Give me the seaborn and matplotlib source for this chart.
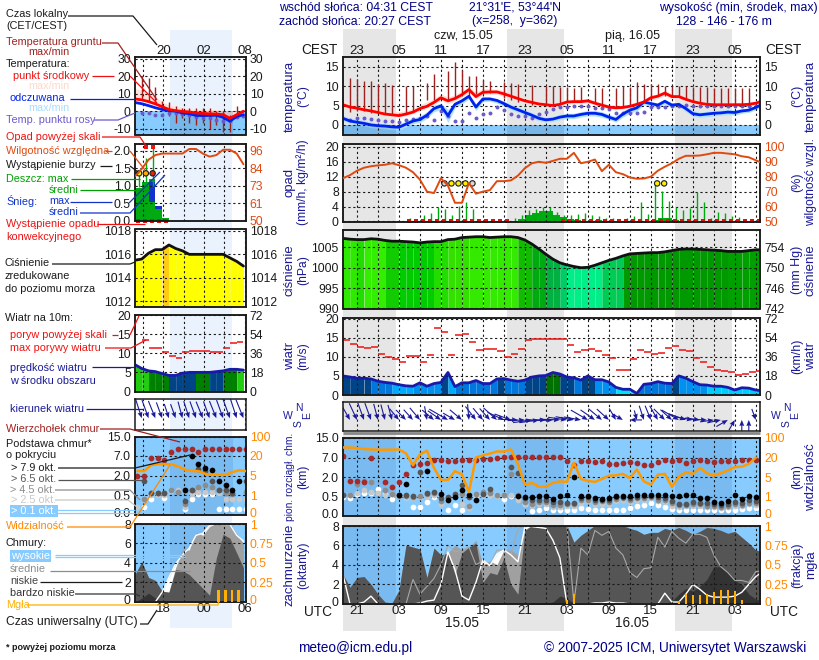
import numpy as np
import pandas as pd
import matplotlib
matplotlib.use("Agg")
import matplotlib.pyplot as plt
from matplotlib.transforms import ScaledTranslation
import seaborn as sns

n = np.nan
# ---------- main panel data (hourly, first sample 19 UTC) ----------
temp_mid = [5.2,4.6,4.3,3.9,3.6,3.2,2.8,2.6,2.4,2.8, 3.3,4.2,4.8,5.8,7.0,6.2,6.8,7.8,9.1,7.3,
            8.4,8.5,8.5,8.0,7.4,6.8,6.2,5.8,5.4,5.2, 5.0,5.3,5.9,6.0,6.0,6.2,5.6,5.1,4.6,4.4,
            4.5,4.8,5.3,5.9,7.0,7.4,8.2,7.3,7.3,6.6, 6.0,5.6,5.3,5.2,5.2,5.2,5.2,5.2,5.3,5.6,6.2]
temp_hi = [6.3,5.8,5.4,5.0,4.6,4.2,3.8,3.5,3.4,3.7, 4.2,5.2,5.9,6.8,8.0,7.2,7.8,8.8,9.8,8.4,
           9.4,9.3,9.2,8.8,8.1,7.5,6.9,6.5,6.0,5.8, 5.6,6.0,6.5,6.6,6.7,6.8,6.2,5.7,5.2,5.0,
           5.1,5.4,5.9,6.5,7.6,8.1,8.9,8.0,8.0,7.2, 6.6,6.2,5.9,5.8,5.8,5.8,5.8,5.8,5.9,6.1,6.6]
temp_lo = [4.6,4.0,3.7,3.4,3.1,2.8,2.4,2.2,2.0,2.3, 2.9,3.6,4.3,5.2,6.4,5.4,6.2,7.1,8.4,6.6,
           7.8,7.9,7.9,7.3,6.8,6.2,5.6,5.3,4.9,4.7, 4.6,4.9,5.4,5.5,5.5,5.7,5.1,4.6,4.1,4.0,
           4.1,4.3,4.8,5.4,6.4,6.8,7.6,6.7,6.7,6.0, 5.5,5.1,4.9,4.8,4.8,4.8,4.8,4.8,4.9,5.2,5.8]
feel_mid = [1.7,1.0,0.7,0.4,0.0,-0.2,-0.3,-0.5,-0.6,0.2, 1.0,1.4,2.5,4.2,4.9,2.4,5.3,6.2,7.4,4.6,
            6.7,6.7,6.3,5.5,4.6,3.9,3.2,2.5,1.7,1.3, 1.5,2.0,2.3,2.3,2.7,3.0,3.0,2.7,2.0,1.4,
            2.8,3.8,4.4,5.9,5.5,5.1,6.1,5.1,5.3,4.2, 2.9,2.6,2.8,3.0,3.1,3.3,3.2,3.6,3.8,4.5,5.4]
feel_hi = [2.4,1.8,1.5,1.1,0.7,0.5,0.3,0.1,0.1,1.1, 1.8,2.3,3.4,5.1,5.6,4.0,6.0,6.8,7.8,5.5,
           7.1,7.1,6.8,6.1,5.2,4.6,3.9,3.2,2.4,2.0, 2.2,2.7,3.0,3.0,3.4,3.7,3.7,3.4,2.7,2.2,
           3.6,4.5,5.1,6.2,6.0,5.7,6.5,5.7,5.8,4.9, 3.7,3.3,3.5,3.7,3.8,4.0,3.9,4.2,4.4,4.9,5.7]
feel_lo = [1.0,0.3,0.0,-0.3,-0.7,-0.9,-1.0,-1.2,-1.3,-0.5, 0.3,0.6,1.7,3.4,3.9,0.6,4.4,5.4,6.7,3.7,
           6.0,6.1,5.6,4.8,3.9,3.2,2.5,1.8,1.0,0.7, 0.9,1.3,1.6,1.6,2.0,2.3,2.3,2.0,1.4,0.7,
           2.0,3.0,3.6,5.2,4.7,4.5,5.4,4.4,4.7,3.4, 2.2,1.9,2.1,2.3,2.4,2.6,2.5,3.0,3.2,3.9,4.9]
dew = [n,1.3,1.7,1.7,1.5,1.3,1.0,0.9,0.8,1.2, 1.4,1.9,2.4,1.2,3.5,2.4,1.0,1.0,3.0,1.9,
       2.9,3.1,4.6,3.8,2.7,2.3,2.2,1.9,2.8,3.2, 4.2,4.5,4.6,5.0,4.9,5.0,4.3,4.3,4.1,3.0,
       3.0,3.0,3.0,3.3,4.6,4.6,4.6,5.0,4.9,5.2, 4.9,4.9,4.9,4.9,4.9,4.9,4.8,5.0,4.9,4.9,4.9]
soil_hi = [n,12.0,11.8,11.4,11.2,10.6,10.8,10.4,n,10.0, 10.0,n,10.7,13.0,n,13.8,16.2,14.2,12.5,12.7,
           11.5,11.2,n,11,10.7,10.6,n,10.4,n,10, 10,9.8,9.8,9.6,9.8,n,9.6,9.5,n,9.5,
           10.1,9.8,11,10.5,10.5,10.5,10,10,10,10, 9.8,9.8,9.8,9.6,9.6,9.5,9.5,9.5,9.6,n,n]
soil_lo = [n,3.2,3.5,3.5,3,3,2.8,2.6,n,3, 3.4,n,6.5,6.5,n,6.5,7,8,7,8,
           8.2,8.2,n,7,6.5,6,n,5.2,n,5.3, 5.2,5.5,6,6,6,n,5.8,5,n,4.4,
           4.5,5,5.4,6,7,7.4,7.5,7.3,7.3,6.5, 6,5.6,5.3,5.2,5.2,5.2,5.2,5.2,5.3,n,n]
humidity = [79,81,84,86,87,87.6,88,89,87.7,86, 83,78,70,69,79,74,62.5,62.5,75.7,68.6,
            70,71,77,77,77.5,80.7,85.7,89,90,89.3, 90.6,92,92,96,89,90,91.5,83.7,88,83,
            81.7,79.5,78.6,78.8,80,84,86.7,89,92,94, 94,94.2,95,96,96,95.5,95,93.7,93,91,89]
rain_max = [0,0,0,0,0,0,0,0,0,0.8, 0,1.6,2.2,4,3.2,1.8,4.2,5.3,3.4,0,
            0,0,0,0,0.8,1.8,3,3.4,4,4, 2.5,1.8,1.8,2,2.2,1.8,1.5,1,0.8,0.5,
            0.8,1.5,5.2,2,10,8.2,5.5,3.8,3,3.6, 8,5.2,1,2.4,2.2,1.5,1.2,0,0,0]
rain_mean = [0,0,0,0,0,0,0,0,0,0, 0,0,0,0,0,0,0.1,0.1,0,0,
             0,0,0,0,0.2,0.7,1.8,2.3,2.8,2.8, 1.8,1.1,0.6,0.4,0.2,0.2,0.3,0.1,0,0,
             0,0,0.1,0.2,0.3,0.9,0.8,0.3,0.1,0.1, 0.1,0.1,0,0,0,0,0,0,0,0]
conv_flag = [n,n,n,n,n,n,n,n,n,0, 0,0,0,0,0,0,0,0,0,0,
             0,0,0,0,n,n,n,n,n,n, n,0,0,0,0,0,0,0,0,0,
             0,0,0,0,0,0,0,0,0,0, 0,0,0,0,0,0,0,0,0,0]
storm_t = [14.5,15.5,16.5,17.5,18.5,44.9,45.9]
storm_y = [10.2,10.2,10.2,10.2,10.2,10.2,10.2]
storm_c = ['#d8d8d8','#ffee00','#ffee00','#ffee00','#d8d8d8','#ffee00','#ffee00']
pressure = [1007.2,1007,1006.9,1006.9,1007.1,1007,1006.7,1006.5,1006.5,1006.4,
            1006.3,1006.1,1006.3,1006.4,1006.4,1006.9,1007,1007.4,1007.5,1007.6,
            1007.6,1007.4,1007.5,1007.6,1007.6,1007.4,1006.8,1005.8,1004.6,1003.3,
            1002.1,1001.2,1000.7,1000.3,1000,1000.1,1000.6,1001.2,1001.8,1002.3,
            1002.9,1003.4,1003.5,1003.6,1003.7,1003.7,1003.9,1004.2,1004.5,1004.6,
            1004.6,1004.5,1004.4,1004.3,1004.2,1004,1004,1004,1004.2,1004.4,1004.4]
press_colors = (['#2eea00']*2+['#22dd00']*1+['#33ee00']*3+['#11cc00']*2+['#00cc00']*2+['#00cc00']*3
                +['#22dd00']*2+['#33e000']*3+['#33ea00']*7+['#11bb00']*2+['#00aa11']*2+['#00b040']*2
                +['#00cc66']*1+['#00ee88']*5+['#00cc55']*3+['#009900']*15+['#00a000']*5)
gust = [14.4,13.3,12.5,12.3,12.5,10.7,9.9,9.4,8.6,10.2, 10.2,8.6,10.4,17.5,16.5,10.4,15.7,16,13.9,11.8,
        12,12,11.5,9.9,10.7,12,14.4,14.6,14.6,14.6, 14.6,14.6,13,11.2,11.8,12,11.5,10.4,9.6,6.5,
        6.5,9.4,11.8,11.2,10.7,11,12.3,12.8,11.8,11.5, 9.6,8.6,7.3,6.5,6.2,6,5.2,5.5,6,6.2]
wind = [5,4.7,4.4,4.4,4.2,3.6,3.3,3.1,2.7,2.4, 2.3,3.2,2.3,3,3.3,5.9,2.2,3.2,3.2,3.8,
        3,3,4.2,4.3,3.9,3.6,3.9,4.7,5,5.1, 5.9,5.5,4.7,4.5,3.9,5,4,4,3.4,2,
        1.5,1.5,0.4,2.8,3,3.5,3.1,3,5,4.4, 3.5,2.7,2.6,2.3,2.3,2,1.3,1.9,1.8,1.3,1.1]
wind_colors = (['#004488']*4+['#0077dd']*3+['#00aaff']*3+['#0090f0']*4+['#004488']*1+['#00aaff']*1
               +['#0077dd']*5+['#0077dd']*1+['#004488']*1+['#0077dd']*3+['#004488']*3+['#007000']*2
               +['#004488']*2+['#0077dd']*1+['#004488']*2+['#0090f0']*3+['#00e0ff']*3+['#0077dd']*5
               +['#004488']*1+['#0090f0']*4+['#00ccff']*7)
wind_from = [335,330,335,340,340,345,345,345,320,315, 318,320,350,310,305,300,300,310,355,322,
             320,318,312,295,290,272,268,262,262,270, 268,272,278,280,280,300,305,310,312,330,
             300,90,345,342,338,330,315,312,300,290, 280,278,272,262,258,240,210,180,180,340]
top_km = [7.5,1.7,1.7,1.6,6.8,n,1.6,1.2,1.6,2.8, 5,5.3,5.6,6.4,6.4,6.2,6.2,6.4,6.3,6.4,
          6.7,6.6,7,7.3,7.3,7.3,7.2,7.4,7.2,7.2, 7.1,7.3,6,5,6,6,5.8,6.1,5.4,5.4,
          5.5,5.8,5.6,5.2,5,5.8,6.4,6,6.3,5.7, 6,6.3,6,5.8,6,6,6,6.3,6.3,6.3]
base79 = [n,n,n,n,n,n,n,n,0.6,1.5, n,n,3.6,n,.7,.4,.5,1,.65,.4, n,n,n,n,n,.55,.5,.5,.55,.57,
          .44,.57,.58,2,.52,.57,.47,.44,.47,.52, .57,.57,.59,.6,.62,.62,.65,.52,.52,.65, .62,.45,.46,.35,.33,.38,.6,.44,.52,.5]
base65 = [.65,n,n,n,n,n,n,n,.65,.58, .55,3.3,.75,.85,.45,.5,.7,1.4,.5,n, .7,1.1,n,n,4.5,3,.45,.4,.42,.4,
          .36,.35,.33,.33,.45,.5,.4,.42,.4,.5, .5,.46,.5,.52,.55,.5,.45,.38,.32,.32, .35,.34,.33,.3,.28,.3,.35,.33,.4,.38]
base45 = [.6,.6,1.5,1.7,1.6,n,1,.7,.55,.52, .48,.55,.7,.75,.38,.45,.65,.7,.25,.7, .85,.75,.6,.65,2.7,.6,.35,.3,.35,.35,
          .28,.28,.3,.3,.4,.42,.36,.38,.36,.44, .45,.4,.45,.45,.5,.42,.42,.33,.28,.28, .3,.3,.26,.25,.22,.26,.3,.28,.33,.33]
base25 = [.65,.6,.75,1,.85,.75,.65,.7,.53,.5, .46,.5,.55,.6,.3,.4,.55,.3,.2,.58, .6,.6,.55,.6,.58,.42,.3,.25,.3,.3,
          .24,.24,.25,.25,.33,.38,.3,.3,.32,.38, .4,.35,.4,.42,.45,.38,.35,.25,.24,.25, .26,.26,.22,.22,.2,.22,.25,.25,.3,.28]
base01 = [.5,.45,.68,.8,.8,1.1,.7,.44,.55,.5, .24,.22,.37,.5,.5,.15,.29,.15,.55,.6, .6,.6,.6,.44,.55,.5,.3,.14,.16,.2,
          .16,.16,.16,.16,.2,.17,.16,.15,.15,.16, .16,.2,.26,.29,.33,.29,.24,.17,.16,.16, .16,.16,.16,.16,.16,.16,.16,.18,.2,.2]
vis = [61,61,59,55,53,52,52,52,53,37, 14,33,48,12,4.4,4.4,9.5,7,1.9,20,
       29,36,45,44,53,15,3.4,3.8,3,3, 3.8,4.1,4,16,4.6,4.2,4,4.6,6,6.3,
       7.4,4.8,10.8,4.1,3.4,6.8,7.4,3,5,8.7, 7.4,12,8,6,8,10,12.6,13,15,20,24]
cl_low = [3,1.7,2.7,2.8,2,1,0.2,0.1,1.4,6, 5.8,5.6,2.7,5.7,5,5.2,3,5.2,5.8,6.2,
          2.2,3.2,3,4.7,2,1,7.5,8,8,8, 8,8,8,6.3,7,7.5,8,8,8,8,
          8,7.7,7.5,7.1,7.3,7.3,7.7,7.5,7.8,7.5, 7.1,7.4,7.8,7.7,7.5,7.2,7.4,6.8,6.2,5.5,5.3]
cl_med = [3,1.7,2.7,2.8,2,1,0.2,0.1,1.4,6, 5.8,5.6,2.7,5.7,5,5.2,6,5.5,5.8,6.5,
          4,4.4,4,5.5,5.5,5,7.6,8,8,8, 8,8,8,6.3,7,7.5,8,8,8,8,
          8,7.7,7.5,7.1,7.3,7.3,7.7,7.5,7.8,7.5, 7.1,7.4,7.8,7.7,7.5,7.2,7.4,6.8,6.2,5.5,5.3]
cl_high = [3,0,0,0.2,0.8,0,0,0,0,0, 0,0.1,0.3,0.4,2,5.3,3.5,0.8,0.4,2.2,
           4.5,3.9,5.1,5.5,5,4.3,7.9,7.9,7.8,7.7, 6.5,4.7,0,0,0,0,0.1,0.1,0.2,0.1,
           0.1,0,0,0,0,0,1.1,0.2,0.2,1, 2,1.5,0.9,0.7,0.7,0.7,0.8,1.2,2,2.8,3.3]
cl_med_line = [0,0,0,0,0,0,0,0,0,0, 2.5,1,1.8,2.6,4,6,5.3,5.5,5.8,4,
               4.4,4,5.5,5.5,5,7.6,8,7.9,7.8,7.9, 8,8,8,0.1,5.7,5,7.5,7,7.4,5.7,
               5,3.2,2.7,3.6,3.7,6.8,5.8,7.4,6.7,6.2, 7.1,7.1,6.8,5,3.8,3.2,2.4,2.4,2.2,3.3,3.4]
cl_vlow = [0,0,0,0,0,0,0,0,0,0, 0,0,0,0,0,0,0,0,0,0,
           0,0,0,0,0,0,0,0.05,0.1,0.1, 0.2,0.8,0.6,0.1,0,0,0.1,0.15,0.1,0,
           0,0,0,0,0,0,0,0.3,1,1.6, 1.3,1.8,2.5,3.8,3.8,3.2,2.4,2,1,0.5,0.3]
mist_t = [32,33,48,49,50,51,52,53,54,55,56,57]
mist = [0.05,0.13,0.04,0.13,0.11,0.11,0.13,0.15,0.175,0.175,0.16,0.05]

# ---------- left "legend" sample panels ----------
L_mid = [7,6.5,5.5,4.2,2.6,1,0.3,-0.1,-0.4,-1,-1.2,-1.5,-1.6,-2,-4,-2,0]
L_feel = [5,4.3,3.2,2,1,0.3,0,-1,-1.4,-2.4,-2.5,-2.4,-2.3,-3.5,-5.7,-3,-2]
L_hi = [13,12,10.5,8.5,5.5,3.5,3,2,1.5,1,1,1,1,0.5,0,0,1]
L_dew = [n,-1.2,-1.2,-2,-2.2,-0.8,-0.8,-1.3,-2.2,-3.5,-3.7,-3.7,-4.8,-5.5,-5.8,-3.5,-2.5]
L_soil_hi = [n,20,19,14,6,5,3,2,2,2,2,2,0,0,-2,3,n]
L_soil_lo = [n,7,6,5,0,-3,-7,-4,-7,-8,-7,-10,-8,-12,-12,-4,n]
L_rain = [0.94,1.1,1.18,0.34,0.07,0,0,0,0,0,0,0,0,0,0,0]
L_snow_b = [0,0,0.53,0.34,0,0,0,0,0,0,0,0,0,0,0,0]
L_snow_t = [0,0,1.09,0.43,0,0,0,0,0,0,0,0,0,0,0,0]
L_hum = [79,84,90,93,94,94,94,94,97,97,94,92,93,96.5,96.5,94,87]
L_press = [1015.5,1015.6,1016.1,1016.4,1016.4,1016.8,1016.5,1016.3,1016,1016,1016,1016,1016,1016,1015.7,1015.4,1015]
L_press_c = ['#ffff00']*4+['#ffcc11']+['#ffff00']*11
L_wind = [7,6,5.4,5.2,4.7,4.2,4.2,4.8,5,5,5,5,5.2,5.4,5.8,5.8,5.6]
L_wind_c = ['#22cc11','#22cc11','#008000','#008000','#008000','#004488','#004488','#004488','#004488',
            '#008000','#008000','#004488','#004488','#008000','#008000','#22cc11']
L_gust = [n,13.5,11.5,11.3,10.4,9.4,8.7,10.4,10.7,10.7,10.7,10.4,10.4,11.5,12.6,12.9]
L_from = [340,342,340,338,340,342,340,345,342,340,338,340,338,340,340,342,338]
L_top = [2,2,6.5,6.5,6,8.5,10,10,10,8.5,10,10,10,10,10,10,10]
L_b79 = [n,n,n,n,n,n,n,.85,7,5,4,3.3,1.6,1.3,.9,1.6,n]
L_b65 = [n,1.6,.65,.65,.65,n,n,.35,.85,3.6,3.1,1.6,.85,.85,.65,n,1.6]
L_b45 = [n,.4,.65,.65,.65,.85,.75,.28,.85,1.1,1.3,1.1,.85,.65,.6,n,.75]
L_b25 = [.2,.4,.5,.5,.5,.8,.85,.2,.6,.7,.7,.7,.65,.4,.4,.4,.4]
L_b01 = [n,.2,.4,n,.42,n,n,.13,.4,.6,.6,.6,.13,.13,.13,.13,.13]
L_vis = [8.4,8.4,12.9,13.7,13.7,13.7,12,9.5,8.4,8.4,6.3,5.5,5.5,5.5,7.6,9,8.4]
L_low = [2.8,4.1,2.5,2.2,1.1,1,3.3,3.2,2.8,2.1,1.4,0.7,4.5,6.9,6.5,5,3.5]
L_med = [2.8,4.1,2.5,2.2,1.1,1,3.5,5.3,5.3,7.1,6.8,7.7,8,8,8,7,6]
L_high = [0,0,0,0,1,2.5,3.9,4.8,5.5,6.8,7,7.8,8,7.9,7.9,6.8,6.2]
L_vlow = [0,0.4,0.9,0.4,0,0,0,0,0,0,0,0,0,0,0,0,0]
L_mist_t = [12.3,13.3,14.3,15.3]
L_mist = [0.15,0.15,0.15,0.15]

# tick labels
CEST_L = ['23','05','11','17','23','05','11','17','23','05']
UTC_L = ['21','03','09','15','21','03','09','15','21','03']

def norm(v, k):
    v = list(v)[:k]
    return v + [v[-1]]*(k-len(v))
for name in ['temp_mid','temp_hi','temp_lo','feel_mid','feel_hi','feel_lo','dew','soil_hi','soil_lo','humidity',
             'pressure','wind','cl_low','cl_med','cl_high','cl_med_line','cl_vlow']:
    globals()[name] = norm(globals()[name], 61)
for name in ['rain_max','rain_mean','conv_flag','press_colors','gust','wind_colors','wind_from','top_km',
             'base79','base65','base45','base25','base01','vis']:
    globals()[name] = norm(globals()[name], 60)

NAVY = '#1a1a99'; ORANGE = '#ff8800'; HUM = '#e04a10'; BROWN = '#a02020'
SKY = '#88ccff'
TK = 8.7

sns.set_theme(style='white')
plt.rcParams['font.family'] = ['Liberation Sans', 'DejaVu Sans']
plt.rcParams['font.size'] = 9
plt.rcParams['axes.unicode_minus'] = False

fig = plt.figure(figsize=(8.2, 6.6), dpi=100, facecolor='white')

def nudge(lab, dy):
    lab.set_transform(lab.get_transform() + ScaledTranslation(0, dy/100, fig.dpi_scale_trans))

def px_ax(x0, y0, x1, y1, z=5):
    a = fig.add_axes([x0/820, 1-y1/660, (x1-x0)/820, (y1-y0)/660], zorder=z)
    a.patch.set_visible(False)
    for s in a.spines.values():
        s.set_color('k'); s.set_linewidth(1.1); s.set_zorder(20)
    return a

bg = fig.add_axes([0, 0, 1, 1], zorder=0); bg.set_xlim(0, 820); bg.set_ylim(660, 0); bg.axis('off')
ov = fig.add_axes([0, 0, 1, 1], zorder=100); ov.set_xlim(0, 820); ov.set_ylim(660, 0); ov.axis('off')
ov.patch.set_visible(False)

for a0, a1 in [(343, 396), (507, 564), (675, 732)]:
    bg.fill_between([a0, a1], 29, 631, color='#e6e6e6', lw=0)
bg.fill_between([170, 232], 30, 628, color='#eaf2fe', lw=0)

T = np.arange(61); TX = (0, 59.6)
H = np.arange(17); HX = (0, 16.3)
gx = np.arange(2, 60, 3)
hx = 1.2 + 3*np.arange(6)
NIGHT = [(0, 7.6), (23.45, 31.55), (47.45, 55.55)]
LNIGHT = [(5.2, 14.4)]

def base(a, xl, xt, yt, yl, ylab=None, color='k'):
    a.set_xlim(*xl); a.set_ylim(*yl)
    a.set_xticks(xt); a.set_xticklabels([])
    a.set_yticks(yt)
    if ylab is not None:
        a.set_yticklabels(ylab)
    a.tick_params(axis='both', length=0, pad=3, labelsize=TK, labelcolor=color)
    a.grid(True, color='k', ls=(0, (2, 2.4)), lw=0.8)
    a.set_axisbelow(False)

def right(a, yl, yt, ylab, color='k', scale=None):
    r = a.twinx(); r.patch.set_visible(False)
    r.set_zorder(a.get_zorder()+1)
    for s in r.spines.values():
        s.set_color('k'); s.set_linewidth(1.1)
    if scale is not None:
        r.set_yscale('function', functions=scale)
    r.set_ylim(*yl); r.set_yticks(yt); r.set_yticklabels(ylab)
    r.minorticks_off()
    r.tick_params(axis='y', length=0, pad=3, labelsize=TK, labelcolor=color)
    r.grid(False)
    return r

def line(a, x, y, c, w, z=6):
    sns.lineplot(x=np.asarray(x, float), y=np.asarray(y, float), ax=a, color=c, lw=w, legend=False, errorbar=None, zorder=z)
    a.set_xlabel(''); a.set_ylabel('')

def dots(a, x, y, c, s, z=4):
    sns.scatterplot(x=np.asarray(x, float), y=np.asarray(y, float), ax=a, color=c, s=s, legend=False, zorder=z, linewidth=0)
    a.set_xlabel(''); a.set_ylabel('')

def seg_fill(a, x, y, cols, y0):
    for i in range(len(cols)):
        a.fill_between(x[i:i+2], y0, y[i:i+2], color=cols[i], lw=0, zorder=1)

def fwd_km(v):
    return np.interp(v, [0, .5, 2, 7, 15], [0, 1, 2, 3, 4])
def inv_km(v):
    return np.interp(v, [0, 1, 2, 3, 4], [0, .5, 2, 7, 15])
def fwd_vis(v):
    return np.interp(v, [0, 1, 5, 20, 100], [0, 1, 2, 3, 4])
def inv_vis(v):
    return np.interp(v, [0, 1, 2, 3, 4], [0, 1, 5, 20, 100])

# --- temperature
def temp_panel(a, x, mid, feel, hi, lo, fhi, flo, dw, shi, slo, xl, night):
    y0 = a.get_ylim()[0]
    a.fill_between(xl, y0, 0, color=SKY, lw=0, zorder=1)
    a.fill_between(x, lo, hi, color='#ffe0d8', lw=0, zorder=1.1)
    a.fill_between(x, flo, fhi, color='#aee2ff', lw=0, zorder=1.2)
    for s, e in night:
        a.fill_between([s, e], y0, 0, color='#4477aa', alpha=.25, lw=0, zorder=1.3)
    a.vlines(x, slo, shi, color=BROWN, lw=1, zorder=2.6)
    dots(a, x, dw, '#6a5acd', 8, z=3)
    line(a, x, feel, '#0022ee', 2, z=5)
    line(a, x, mid, '#ff0000', 2, z=6)

a = px_ax(343, 57, 760, 135)
base(a, TX, gx, [0, 5, 10, 15], (-2.6, 17.5))
temp_panel(a, T, temp_mid, feel_mid, temp_hi, temp_lo, feel_hi, feel_lo, dew, soil_hi, soil_lo, TX, NIGHT)
a.xaxis.set_ticks_position('top')
a.set_xticklabels([CEST_L[i//2] if i % 2 == 0 else '' for i in range(len(gx))])
a.tick_params(axis='x', top=False, labeltop=True, labelbottom=False, pad=0, labelsize=9.5)
right(a, (-2.6, 17.5), [0, 5, 10, 15], ['0', '5', '10', '15'])

b = px_ax(135, 57, 245.5, 134.5)
base(b, HX, hx, [-10, 0, 10, 20, 30], (-13.3, 31))
temp_panel(b, H, L_mid, L_feel, L_hi, L_mid, L_feel, L_feel, L_dew, L_soil_hi, L_soil_lo, HX, LNIGHT)
b.xaxis.set_ticks_position('top')
b.set_xticklabels(['', '20', '', '02', '', '08'])
b.tick_params(axis='x', top=False, labeltop=True, labelbottom=False, pad=0, labelsize=9.5)
right(b, (-13.3, 31), [-10, 0, 10, 20, 30], ['-10', '0', '10', '20', '30'])

# --- precipitation / humidity
a = px_ax(343, 143.5, 760, 221.5)
base(a, TX, gx, [0, 4, 8, 12, 16, 20], (-0.02, 20.9))
a.bar(T[:60], rain_mean, width=1, align='edge', color='#00aa11', lw=0, zorder=1.5)
a.vlines(T[:60]+0.55, 0, rain_max, color='#00aa11', lw=1, zorder=2.6)
sns.scatterplot(x=T[:60]+0.5, y=np.asarray(conv_flag, float), ax=a, color='#dd1111', marker='s', s=6, legend=False, zorder=7, linewidth=0, clip_on=False)
a.scatter(storm_t, storm_y, c=storm_c, s=15, edgecolors='k', linewidths=.8, zorder=8)
a.set_xlabel(''); a.set_ylabel('')
r = right(a, (49.95, 102.25), [50, 60, 70, 80, 90, 100], ['50', '60', '70', '80', '90', '100'], color=HUM)
line(r, T, humidity, HUM, 1.4)

b = px_ax(135, 143.5, 245.5, 221)
base(b, HX, hx, [0, .5, 1, 1.5, 2], (-0.01, 2.2), ['0.0', '0.5', '1.0', '1.5', '2.0'])
b.bar(H[:16], L_rain, width=1, align='edge', color='#00aa11', lw=0, zorder=1.5)
b.bar(H[:16], np.array(L_snow_t)-np.array(L_snow_b), bottom=L_snow_b, width=1, align='edge', color='#1133cc', lw=0, zorder=1.6)
b.vlines([0.6, 1.6, 2.6], 0.95, [1.35, 1.8, 2.1], color='#00aa11', lw=1, zorder=2.6)
sns.scatterplot(x=H[:5]+0.5, y=np.zeros(5), ax=b, color='#dd1111', marker='s', s=5, legend=False, zorder=7, linewidth=0, clip_on=False)
b.scatter([0.6, 1.6, 2.6], [1.35, 1.35, 1.35], c=['#ffee00', '#ffaa00', '#ee2200'], s=15, edgecolors='k', linewidths=.8, zorder=8)
b.scatter([1.6, 2.6], [2.1, 2.1], c='#ee1111', marker='s', s=9, linewidths=0, zorder=8)
b.set_xlabel(''); b.set_ylabel('')
r = right(b, (49.8, 100.6), [50, 61, 73, 84, 96], ['50', '61', '73', '84', '96'], color=HUM)
line(r, H, L_hum, HUM, 1.4)

# --- pressure
a = px_ax(343, 230, 760, 308.5)
base(a, TX, gx, [990, 995, 1000, 1005], (990, 1009.25))
seg_fill(a, T, pressure, press_colors, 990)
line(a, T, pressure, '#111111', 2)
right(a, (990, 1009.25), [990, 995, 1000, 1005], ['742', '746', '750', '754'])

b = px_ax(135, 229.5, 245.5, 306.5)
base(b, HX, hx, [1012, 1014, 1016, 1018], (1011.55, 1018.12))
seg_fill(b, H, L_press, L_press_c, 1011.55)
line(b, H, L_press, '#111111', 2)
right(b, (1011.55, 1018.12), [1012, 1014, 1016, 1018], ['1012', '1014', '1016', '1018'])

# --- wind
a = px_ax(343, 317.5, 760, 395)
base(a, TX, gx, [0, 5, 10, 15, 20], (0, 20.3))
seg_fill(a, T, wind, wind_colors, 0)
line(a, T, wind, '#1a1aaa', 2)
a.hlines(gust, T[:60], T[:60]+1, color='#ee1111', lw=1.1, zorder=5)
right(a, (0, 20.3), [0, 5, 10, 15, 20], ['0', '18', '36', '54', '72'])

b = px_ax(135, 315, 245.5, 391.5)
base(b, HX, hx, [0, 5, 10, 15, 20], (0, 20))
seg_fill(b, H, L_wind, L_wind_c, 0)
line(b, H, L_wind, '#1a1aaa', 2)
b.hlines(L_gust, H[:16], H[:16]+1, color='#ee1111', lw=1.1, zorder=5)
right(b, (0, 20), [0, 5, 10, 15, 20], ['0', '18', '36', '54', '72'])

# --- wind direction
def arrows(a, x, sp, deg, xl):
    r = np.deg2rad(np.array(deg, float))
    sp = np.asarray(sp, float)
    a.set_xlim(*xl); a.set_ylim(-1, 1); a.set_yticks([])
    a.quiver(x, -0.25*np.ones(len(x)), -np.sin(r)*sp, -np.cos(r)*sp, pivot='tip', angles='uv',
             scale_units='inches', scale=28, units='dots', width=1.1, headwidth=4.5,
             headlength=5.5, headaxislength=5, color='#1a1a99', zorder=4)

a = px_ax(343, 401.5, 760, 431)
arrows(a, T[:60], np.array(wind[:60])*0.6+2.5, wind_from, TX)
a.set_xticks(gx); a.tick_params(length=0, labelbottom=False)
a.grid(True, axis='x', color='k', ls=(0, (2, 2.4)), lw=0.8); a.set_axisbelow(False)
b = px_ax(135, 398.5, 245.5, 430)
arrows(b, H, L_wind, L_from, HX)
b.set_xticks(hx); b.tick_params(length=0, labelbottom=False)
b.grid(True, axis='x', color='k', ls=(0, (2, 2.4)), lw=0.8); b.set_axisbelow(False)

# --- cloud base / visibility
def cloud_panel(a, x, top, b79, b65, b45, b25, b01, xl, night, visv, tv):
    a.set_yscale('function', functions=(fwd_km, inv_km))
    base(a, xl, tv, [0, .5, 2, 7, 15], (0, 15), ['0.0', '0.5', '2.0', '7.0', '15.0'])
    a.minorticks_off()
    a.fill_between(xl, 0, 15, color=SKY, lw=0, zorder=0.5)
    for s, e in night:
        a.fill_between([s, e], 0, 15, color='#3366aa', alpha=.17, lw=0, zorder=0.6)
    xx = x[:len(top)]
    dots(a, xx, b01, 'white', 17, z=3)
    dots(a, xx, b25, '#c8c8c8', 17, z=3.1)
    dots(a, xx, b45, '#8c8c8c', 17, z=3.2)
    dots(a, xx, b65, '#555555', 17, z=3.3)
    dots(a, xx, b79, 'black', 17, z=3.4)
    dots(a, xx, top, '#a52a2a', 17, z=3.5)
    nudge(a.get_yticklabels()[0], 2)
    r = right(a, (0, 100), [0, 1, 5, 20, 100], ['0', '1', '5', '20', '100'], color=ORANGE, scale=(fwd_vis, inv_vis))
    nudge(r.get_yticklabels()[0], 2)
    line(r, x[:len(visv)], visv, '#ff9900', 1.8)

a = px_ax(343, 438, 760, 516)
cloud_panel(a, T[:60], top_km, base79, base65, base45, base25, base01, TX, NIGHT, vis, gx)
b = px_ax(135, 436.5, 245.5, 514.5)
cloud_panel(b, H+0.35, L_top, L_b79, L_b65, L_b45, L_b25, L_b01, HX, LNIGHT, L_vis, hx)

# --- cloud cover / mist
def cover_panel(a, x, high, med, low, vlow, medl, xl, night, tv, mt, mv, w):
    base(a, xl, tv, [0, 2, 4, 6, 8], (0, 8))
    a.fill_between(xl, 0, 8, color=SKY, lw=0, zorder=0.5)
    for s, e in night:
        a.fill_between([s, e], 0, 8, color='#3366aa', alpha=.17, lw=0, zorder=0.6)
    a.fill_between(x, 0, high, color='white', lw=0, zorder=1)
    a.fill_between(x, 0, med, color='#a0a0a0', lw=0, zorder=1.1)
    a.fill_between(x, 0, low, color='#555555', lw=0, zorder=1.2)
    a.fill_between(x, 0, vlow, color='#333333', lw=0, zorder=1.3)
    if medl is not None:
        line(a, x, medl, '#a8a8a8', 0.8, z=1.4)
    line(a, x, high, 'white', 1, z=1.5)
    nudge(a.get_yticklabels()[0], 3); nudge(a.get_yticklabels()[-1], -1)
    r = right(a, (0, 1), [0, .25, .5, .75, 1], ['0', '0.25', '0.5', '0.75', '1'], color=ORANGE)
    nudge(r.get_yticklabels()[0], 3); nudge(r.get_yticklabels()[-1], -1)
    r.bar(mt, mv, width=w, color='#ffb000', lw=0, zorder=3)

a = px_ax(343, 525.5, 760, 604)
cover_panel(a, T, cl_high, cl_med, cl_low, cl_vlow, cl_med_line, TX, NIGHT, gx, mist_t, mist, 0.35)
a.set_xticklabels([UTC_L[i//2] if i % 2 == 0 else '' for i in range(len(gx))])
a.tick_params(axis='x', labelbottom=True, pad=1, labelsize=9.5)
b = px_ax(135, 523.5, 245.5, 602)
cover_panel(b, H, L_high, L_med, L_low, L_vlow, None, HX, LNIGHT, hx, L_mist_t, L_mist, 0.4)
b.set_xticklabels(['', '18', '', '00', '', '06'])
b.tick_params(axis='x', labelbottom=True, pad=1, labelsize=9.5)

# --- texts
def tx(x, y, s, c='k', ha='left', fs=7.8, rot=0, **k):
    ov.text(x, y, s, color=c, ha=ha, va='center', fontsize=fs, rotation=rot, **k)

RED = '#ee1111'; GRN = '#00a000'; BLU = '#1133cc'; DN = '#000088'
rows = [
 (6,14,'Czas lokalny','k'),(6,26,'(CET/CEST)','k'),
 (6,42,'Temperatura gruntu',BROWN),(28,52,'max/min',BROWN),(6,64,'Temperatura:','k'),
 (13,76,'punkt środkowy',RED),(28,86,'max/min','#ffd8c8'),(10,98,'odczuwana','#0022ee'),
 (28,108,'max/min','#a8dcff'),(6,120,'Temp. punktu rosy','#6a5acd'),
 (6,137,'Opad powyżej skali',RED),(6,151,'Wilgotność względna',HUM),(6,165,'Wystąpienie burzy','k'),
 (6,179,'Deszcz: max',GRN),(49,190,'średni',GRN),(6,201,'Śnieg:',BLU),(49,201,'max',BLU),(49,212,'średni',BLU),
 (6,224,'Wystąpienie opadu',RED),(6,237,'konwekcyjnego',RED),
 (5,263,'Ciśnienie','k'),(5,276,'zredukowane','k'),(5,289,'do poziomu morza','k'),
 (5,318,'Wiatr na 10m:','k'),(10,335,'poryw powyżej skali',RED),(10,348,'max porywy wiatru',RED),
 (10,368,'prędkość wiatru',NAVY),(10,381,'w środku obszaru',NAVY),(10,409,'kierunek wiatru',NAVY),
 (6,429,'Wierzchołek chmur',BROWN),(6,444,'Podstawa chmur*','k'),(6,455,'o pokryciu','k'),
 (11,468,'> 7.9 okt.','k'),(11,479,'> 6.5 okt.','#555555'),(10,490,'> 4.5 okt.','#8c8c8c'),(11,500,'> 2.5 okt.','#c8c8c8'),
 (6,526,'Widzialność',ORANGE),(6,543,'Chmury:','k'),(10,569,'średnie','#8c8c8c'),(10,581,'niskie','#444444'),
 (10,593,'bardzo niskie','#333333'),(6,605,'Mgła','#ffb000'),
]
for x, y, s, c in rows:
    tx(x, y, s, c)
tx(6, 622, 'Czas uniwersalny (UTC)', 'k', fs=8.7)
tx(11, 511, '> 0.1 okt.', 'white', bbox=dict(fc=SKY, ec='none', pad=1))
tx(11, 556, 'wysokie', 'white', bbox=dict(fc=SKY, ec='none', pad=1))
tx(6, 648, '* powyżej poziomu morza', 'k', fs=6.5, fontweight='bold')

tx(279, 8, 'wschód słońca: 04:31 CEST', DN, fs=8.8); tx(279, 22, 'zachód słońca: 20:27 CEST', DN, fs=8.8)
tx(515, 8, "21°31'E, 53°44'N", DN, 'center', fs=8.8); tx(515, 21, '(x=258,  y=362)', DN, 'center', fs=8.8)
tx(818, 8, 'wysokość (min, środek, max)', DN, 'right', fs=8.8); tx(724, 22, '128 - 146 - 176 m', DN, 'center', fs=8.8)
tx(463, 36, 'czw, 15.05', 'k', 'center', 9); tx(633, 36, 'pią, 16.05', 'k', 'center', 9)
tx(338, 50, 'CEST', 'k', 'right', 9.8); tx(765, 50, 'CEST', 'k', 'left', 9.8)
tx(332, 612, 'UTC', 'k', 'right', 9.8); tx(770, 612, 'UTC', 'k', 'left', 9.8)
tx(462, 623, '15.05', 'k', 'center', 9.8); tx(632, 623, '16.05', 'k', 'center', 9.8)
tx(355, 648, 'meteo@icm.edu.pl', DN, 'center', 9.8); tx(806, 648, '© 2007-2025 ICM, Uniwersytet Warszawski', DN, 'right', 9.8)

sides = [
 (96,'temperatura',9.5,'(°C)','(°C)','temperatura',9.5),
 (182,'opad',9.5,'(mm/h, kg/m²/h)','(%)','wilgotność wzgl.',8.7),
 (270,'ciśnienie',9.5,'(hPa)','(mm Hg)','ciśnienie',9.5),
 (356,'wiatr',9.5,'(m/s)','(km/h)','wiatr',9.5),
 (477,'pion. rozciągł. chm.',7.4,'(km)','(km)','widzialność',9.5),
 (565,'zachmurzenie',9.5,'(oktanty)','(frakcja)','mgła',9.5),
]
for y, l1, f1, l2, r1, r2, f2 in sides:
    tx(290, y, l1, NAVY, 'center', f1, 90); tx(303, y, l2, NAVY, 'center', 8.7, 90)
    tx(797, y, r1, NAVY, 'center', 9, 90); tx(811, y, r2, NAVY, 'center', f2, 90)
for dx in (0, 488):
    tx(288+dx, 416, 'W', NAVY, 'center', 7.5); tx(299+dx, 408, 'N', NAVY, 'center', 7.5)
    tx(307+dx, 416, 'E', NAVY, 'center', 7.5, 90); tx(299+dx, 424, 'S', NAVY, 'center', 7.5, 90)

def lead(xs, ys, c='k', w=0.9):
    ov.plot(xs, ys, color=c, lw=w, solid_capstyle='butt')
lead([68,133,157],[16,16,45])
lead([102,118,157],[43,43,100],BROWN)
lead([92,114],[76,76],RED); lead([130,157],[76,103],RED)
lead([70,135],[99,99],'#0022ee')
lead([94,118,135],[120,120,113],'#6a5acd')
lead([102,140,146],[137,137,146],RED)
lead([105,112],[151,151],HUM); lead([130,145],[151,170],HUM)
lead([100,112],[166,166]); lead([130,138],[166,172])
lead([71,140],[179,179],GRN); lead([80,150],[190,190],GRN)
lead([70,112],[202,202],BLU); lead([129,160],[203,172],BLU)
lead([80,130,165],[213,213,175],BLU)
lead([97,145],[224,224],RED)
lead([52,130,135],[264,264,262])
lead([112,118],[335,335],RED); lead([130,139],[335,316],RED)
lead([105,131,146],[348,348,340],RED)
lead([92,135],[367,367],NAVY)
lead([86,143],[409,409],NAVY)
lead([100,130,180],[429,429,442],BROWN)
lead([58,135,190],[468,468,455])
lead([58,143],[480,480],'#555555')
lead([55,130,140],[490,490,500],'#8c8c8c')
lead([55,128,137],[500,500,507],'#c8c8c8')
lead([55,135],[510,510],SKY); lead([55,135],[513,513],SKY)
lead([67,130,170],[527,527,465],ORANGE)
lead([55,185],[555,555],SKY); lead([55,185],[557,557],SKY)
lead([50,190],[571,571],'#8c8c8c')
lead([40,122],[582,582]); lead([75,135,140],[594,594,596],'#333333')
lead([27,218,219],[605,605,600],'#ffb000')
lead([140,148,157],[624,624,610])
lead([343,760],[432.5,432.5],'#888888',2)

fig.savefig('out.png', dpi=100)
